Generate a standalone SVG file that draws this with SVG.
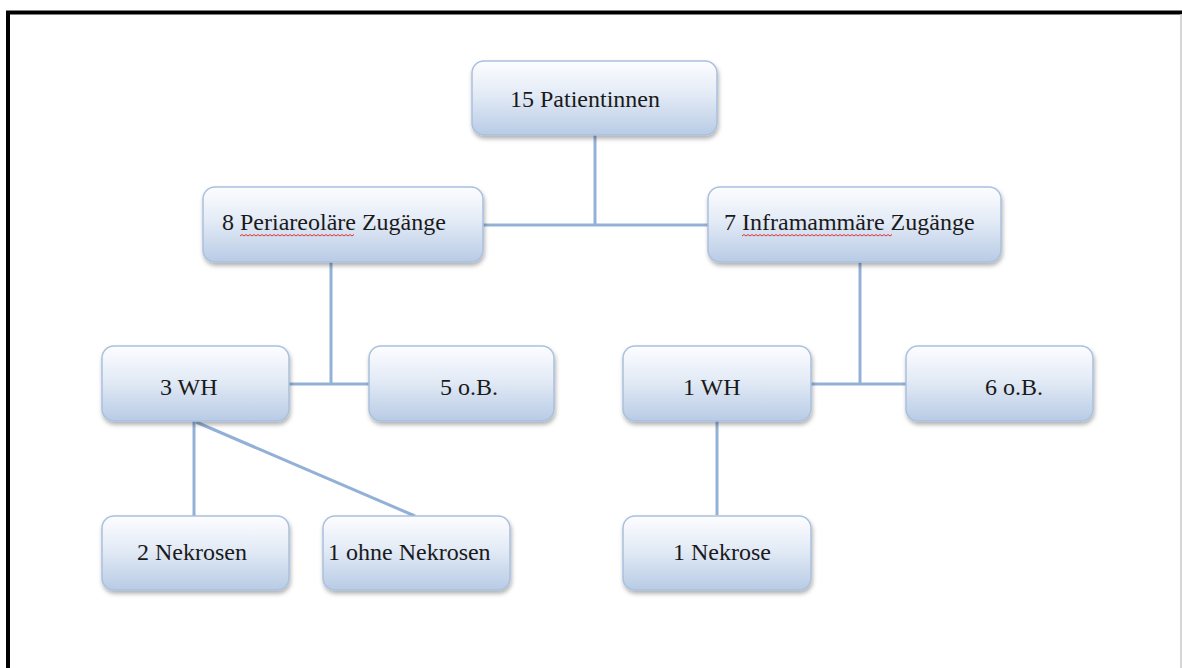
<svg xmlns="http://www.w3.org/2000/svg" width="1182" height="668" viewBox="0 0 1182 668">
<defs>
<linearGradient id="g" x1="0" y1="0" x2="0" y2="1">
<stop offset="0" stop-color="#fdfdff"/>
<stop offset="0.45" stop-color="#e3ebf6"/>
<stop offset="1" stop-color="#b8cbe5"/>
</linearGradient>
<filter id="sh" x="-10%" y="-10%" width="120%" height="130%">
<feDropShadow dx="1" dy="3" stdDeviation="2" flood-color="#000" flood-opacity="0.3"/>
</filter>
</defs>
<style>
.box{fill:url(#g);stroke:#a9c0de;stroke-width:1.5;filter:url(#sh)}
.t{font-family:"Liberation Serif","Times New Roman",serif;font-size:24px;fill:#1a1a1a}
.c{stroke:#93b1d6;stroke-width:3;fill:none}
.sp{stroke:#e03030;stroke-width:1;fill:none}
</style>
<rect x="0" y="0" width="1182" height="668" fill="#ffffff"/>
<path d="M8,668 V12.5 H1182" fill="none" stroke="#000" stroke-width="4"/>
<line x1="1181" y1="14" x2="1181" y2="668" stroke="#c8c8c8" stroke-width="1.5"/>
<g id="connectors">
<path class="c" d="M595,135 V225"/>
<path class="c" d="M483,225 H708"/>
<path class="c" d="M331,262 V384"/>
<path class="c" d="M289,384 H369"/>
<path class="c" d="M860,262 V384"/>
<path class="c" d="M811,384 H906"/>
<path class="c" d="M194,421 V516"/>
<path class="c" d="M196,422 L415,516"/>
<path class="c" d="M717,421 V515"/>
</g>
<g id="n-patientinnen">
<rect class="box" x="472" y="61" width="245" height="74" rx="12"/>
<text class="t" x="510" y="107">15 Patientinnen</text>
</g>
<g id="n-periareolaer">
<rect class="box" x="203" y="187" width="280" height="75" rx="12"/>
<text class="t" x="222" y="230">8 Periareoläre Zugänge</text>
<path class="sp" d="M240,236 l2,-1.5 l2,1.5 l2,-1.5 l2,1.5 l2,-1.5 l2,1.5 l2,-1.5 l2,1.5 l2,-1.5 l2,1.5 l2,-1.5 l2,1.5 l2,-1.5 l2,1.5 l2,-1.5 l2,1.5 l2,-1.5 l2,1.5 l2,-1.5 l2,1.5 l2,-1.5 l2,1.5 l2,-1.5 l2,1.5 l2,-1.5 l2,1.5 l2,-1.5 l2,1.5 l2,-1.5 l2,1.5 l2,-1.5 l2,1.5 l2,-1.5 l2,1.5 l2,-1.5 l2,1.5 l2,-1.5 l2,1.5 l2,-1.5 l2,1.5 l2,-1.5 l2,1.5 l2,-1.5 l2,1.5 l2,-1.5 l2,1.5 l2,-1.5 l2,1.5 l2,-1.5 l2,1.5 l2,-1.5 l2,1.5 l2,-1.5 l2,1.5 l2,-1.5 l2,1.5 l2,-1.5"/>
</g>
<g id="n-inframammaer">
<rect class="box" x="708" y="187" width="293" height="75" rx="12"/>
<text class="t" x="724" y="230">7 Inframammäre Zugänge</text>
<path class="sp" d="M742,236 l2,-1.5 l2,1.5 l2,-1.5 l2,1.5 l2,-1.5 l2,1.5 l2,-1.5 l2,1.5 l2,-1.5 l2,1.5 l2,-1.5 l2,1.5 l2,-1.5 l2,1.5 l2,-1.5 l2,1.5 l2,-1.5 l2,1.5 l2,-1.5 l2,1.5 l2,-1.5 l2,1.5 l2,-1.5 l2,1.5 l2,-1.5 l2,1.5 l2,-1.5 l2,1.5 l2,-1.5 l2,1.5 l2,-1.5 l2,1.5 l2,-1.5 l2,1.5 l2,-1.5 l2,1.5 l2,-1.5 l2,1.5 l2,-1.5 l2,1.5 l2,-1.5 l2,1.5 l2,-1.5 l2,1.5 l2,-1.5 l2,1.5 l2,-1.5 l2,1.5 l2,-1.5 l2,1.5 l2,-1.5 l2,1.5 l2,-1.5 l2,1.5 l2,-1.5 l2,1.5 l2,-1.5 l2,1.5 l2,-1.5 l2,1.5 l2,-1.5 l2,1.5 l2,-1.5 l2,1.5 l2,-1.5 l2,1.5 l2,-1.5 l2,1.5 l2,-1.5 l2,1.5 l2,-1.5 l2,1.5 l2,-1.5 l2,1.5 l2,-1.5"/>
</g>
<g id="n-3wh">
<rect class="box" x="102" y="346" width="187" height="75" rx="12"/>
<text class="t" x="160" y="395">3 WH</text>
</g>
<g id="n-5ob">
<rect class="box" x="369" y="346" width="185" height="75" rx="12"/>
<text class="t" x="440" y="395">5 o.B.</text>
</g>
<g id="n-1wh">
<rect class="box" x="623" y="346" width="188" height="75" rx="12"/>
<text class="t" x="683" y="395">1 WH</text>
</g>
<g id="n-6ob">
<rect class="box" x="906" y="346" width="187" height="75" rx="12"/>
<text class="t" x="985" y="395">6 o.B.</text>
</g>
<g id="n-2nekrosen">
<rect class="box" x="102" y="516" width="187" height="74" rx="12"/>
<text class="t" x="137" y="560">2 Nekrosen</text>
</g>
<g id="n-1ohne">
<rect class="box" x="323" y="516" width="187" height="74" rx="12"/>
<text class="t" x="328" y="560">1 ohne Nekrosen</text>
</g>
<g id="n-1nekrose">
<rect class="box" x="623" y="516" width="188" height="74" rx="12"/>
<text class="t" x="673" y="560">1 Nekrose</text>
</g>
</svg>
